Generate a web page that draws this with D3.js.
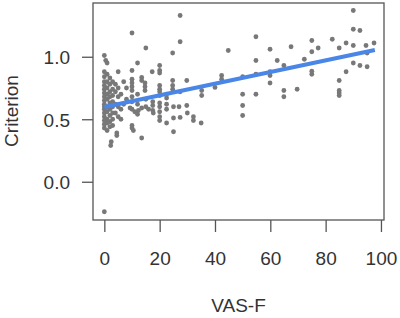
<!DOCTYPE html>
<html>
<head>
<meta charset="utf-8">
<script src="https://cdn.jsdelivr.net/npm/d3@7"></script>
<style>
  body { margin: 0; background: #fff; }
  text { font-family: "Liberation Sans", Arial, sans-serif; fill: #333; }
</style>
</head>
<body>
<div id="plot"></div>
<script>
  // data
  const vasF = [
    0, 0.5, 1, 0, 0, 0, 0, 0, 0, 0, 0, 0, 0, 0, 0, 0, 0, 0, 0, 0,
    1, 1, 1, 1, 1, 1, 1, 1, 1, 1,
    2, 2, 2, 2, 2, 2, 2, 2, 2, 2.5, 2.3,
    3, 3, 3, 3, 3, 3, 3, 3,
    4, 4, 4, 4, 4.5, 4.5,
    5, 5, 5, 5, 5,
    7, 6, 6, 7, 6, 8, 8,
    10, 10, 10, 10, 10, 10, 10, 10, 10, 11, 10, 10, 10.5, 9.3, 12.3,
    12, 12, 12, 12,
    13.5, 13.5, 13.5, 13.5,
    15, 14.7, 14.7, 14.7, 15, 15, 16,
    17.3, 17.5, 17.5, 17.5, 17.7,
    20, 20, 20, 20, 20, 20, 20, 20, 20, 20, 20, 20,
    22.5, 22.5, 22.5, 22.5, 22.5,
    24.7, 24.7, 24.7, 24.7, 25, 25, 25,
    27.4, 27.4, 27.4, 27.4, 27,
    29.8, 29.8, 30,
    32.2, 32.2,
    35.2, 35.2, 35,
    40, 42.4, 42.4, 44.8,
    50, 50, 50, 50,
    54.8, 54.8, 54.8, 54.8,
    59.9, 59.9, 59.9, 59.9,
    62.5, 64.9, 64.9, 64.9, 67.5, 69.7, 72.3,
    75, 75, 75, 75, 77.3, 82.4,
    84.9, 84.9, 84.9, 84.9, 84.9,
    87.4, 87.4,
    90, 90, 90, 90,
    92.4, 92.4,
    94.6, 95, 95, 97.5
  ];
  const criterion = [
    1.01, 0.97, 0.95, 0.88, 0.84, 0.8, 0.77, 0.74, 0.71, 0.68, 0.65, 0.62, 0.58, 0.55, 0.52, 0.49, 0.46, 0.43, 0.6, -0.24,
    0.86, 0.8, 0.75, 0.7, 0.66, 0.6, 0.56, 0.5, 0.47, 0.41,
    0.83, 0.78, 0.72, 0.68, 0.63, 0.58, 0.53, 0.48, 0.44, 0.32, 0.29,
    0.8, 0.74, 0.69, 0.64, 0.6, 0.55, 0.5, 0.45,
    0.78, 0.72, 0.62, 0.55, 0.39, 0.37,
    0.88, 0.75, 0.68, 0.6, 0.52,
    0.8, 0.7, 0.58, 0.62, 0.5, 0.75, 0.66,
    1.19, 0.89, 0.82, 0.79, 0.76, 0.73, 0.68, 0.64, 0.58, 0.56, 0.45, 0.43, 0.41, 0.59, 0.57,
    0.95, 0.7, 0.62, 0.54,
    0.835, 0.81, 0.59, 0.35,
    1.07, 0.79, 0.76, 0.73, 0.66, 0.6, 0.58,
    0.88, 0.64, 0.61, 0.57, 0.55,
    0.93, 0.89, 0.87, 0.77, 0.74, 0.72, 0.69, 0.63, 0.6, 0.56, 0.52, 0.49,
    0.7, 0.67, 0.62, 0.58, 0.47,
    1.03, 0.81, 0.77, 0.74, 0.51, 0.4, 0.6,
    1.33, 1.12, 0.72, 0.515, 0.6,
    0.81, 0.61, 0.55,
    0.52, 0.49,
    0.73, 0.69, 0.47,
    0.755, 0.85, 0.82, 1.05,
    0.84, 0.7, 0.61, 0.53,
    1.16, 0.97, 0.86, 0.7,
    1.06, 0.88, 0.85, 0.79,
    0.97, 0.93, 0.73, 0.68, 1.08, 0.74, 0.98,
    1.13, 1.04, 0.885, 0.86, 1.07, 1.14,
    1.07, 0.81, 0.73, 0.71, 0.69,
    1.11, 0.88,
    1.37, 1.22, 1.09, 0.95,
    1.21, 0.93,
    1.09, 1.03, 0.92, 1.11
  ];
  // fitted line end points
  const fitX = [0, 97.8];
  const fitY = [0.598, 1.054];

  const xTicks = [0, 20, 40, 60, 80, 100];
  const yTicks = [0, 0.5, 1];

  const w = 400;
  const h = 318;
  const box = {left: 93, right: 384, top: 3, bottom: 220};

  const svg = d3.select("div#plot")
      .append("svg")
      .attr("width", w)
      .attr("height", h);

  const xScale = d3.scaleLinear()
      .domain([-4.1, 101.1])
      .range([box.left, box.right]);

  const yScale = d3.scaleLinear()
      .domain([-0.306, 1.43])
      .range([box.bottom, box.top]);

  // points
  svg.append("g")
    .selectAll("circle")
    .data(vasF)
    .enter().append("circle")
      .attr("cx", d => xScale(d))
      .attr("cy", (d, i) => yScale(criterion[i]))
      .attr("r", 2.4)
      .attr("fill", "#787878");

  // regression line
  const line = d3.line()
      .x(d => xScale(d[0]))
      .y(d => yScale(d[1]));

  svg.append("path")
      .datum(fitX.map((d, i) => [d, fitY[i]]))
      .attr("d", line)
      .attr("fill", "none")
      .attr("stroke", "#4a86e8")
      .attr("stroke-width", 4);

  // box
  svg.append("rect")
      .attr("x", box.left)
      .attr("y", box.top)
      .attr("width", box.right - box.left)
      .attr("height", box.bottom - box.top)
      .attr("fill", "none")
      .attr("stroke", "#555")
      .attr("stroke-width", 1.3);

  const xAxis = d3.axisBottom(xScale)
      .tickValues(xTicks)
      .tickSize(12)
      .tickSizeOuter(0)
      .tickFormat(d3.format("d"));

  const yAxis = d3.axisLeft(yScale)
      .tickValues(yTicks)
      .tickSize(11)
      .tickSizeOuter(0)
      .tickFormat(d3.format(".1f"));

  const gx = svg.append("g")
      .attr("transform", `translate(0, ${box.bottom})`)
      .call(xAxis);
  gx.select(".domain").remove();
  gx.selectAll("line").attr("stroke", "#555").attr("stroke-width", 1.3);
  gx.selectAll("text")
      .attr("y", 45)
      .attr("dy", 0)
      .attr("font-size", 19)
      .attr("font-family", "Liberation Sans, Arial, sans-serif")
      .attr("fill", "#333");

  const gy = svg.append("g")
      .attr("transform", `translate(${box.left}, 0)`)
      .call(yAxis);
  gy.select(".domain").remove();
  gy.selectAll("line").attr("stroke", "#555").attr("stroke-width", 1.3);
  gy.selectAll("text")
      .attr("x", -23)
      .attr("dy", "0.36em")
      .attr("font-size", 19)
      .attr("font-family", "Liberation Sans, Arial, sans-serif")
      .attr("fill", "#333");

  // axis titles
  svg.append("text")
      .attr("x", (box.left + box.right) / 2)
      .attr("y", 312)
      .attr("text-anchor", "middle")
      .attr("font-size", 19)
      .text("VAS-F");

  svg.append("text")
      .attr("transform", "translate(18, 111) rotate(-90)")
      .attr("text-anchor", "middle")
      .attr("font-size", 19)
      .text("Criterion");
</script>
</body>
</html>
